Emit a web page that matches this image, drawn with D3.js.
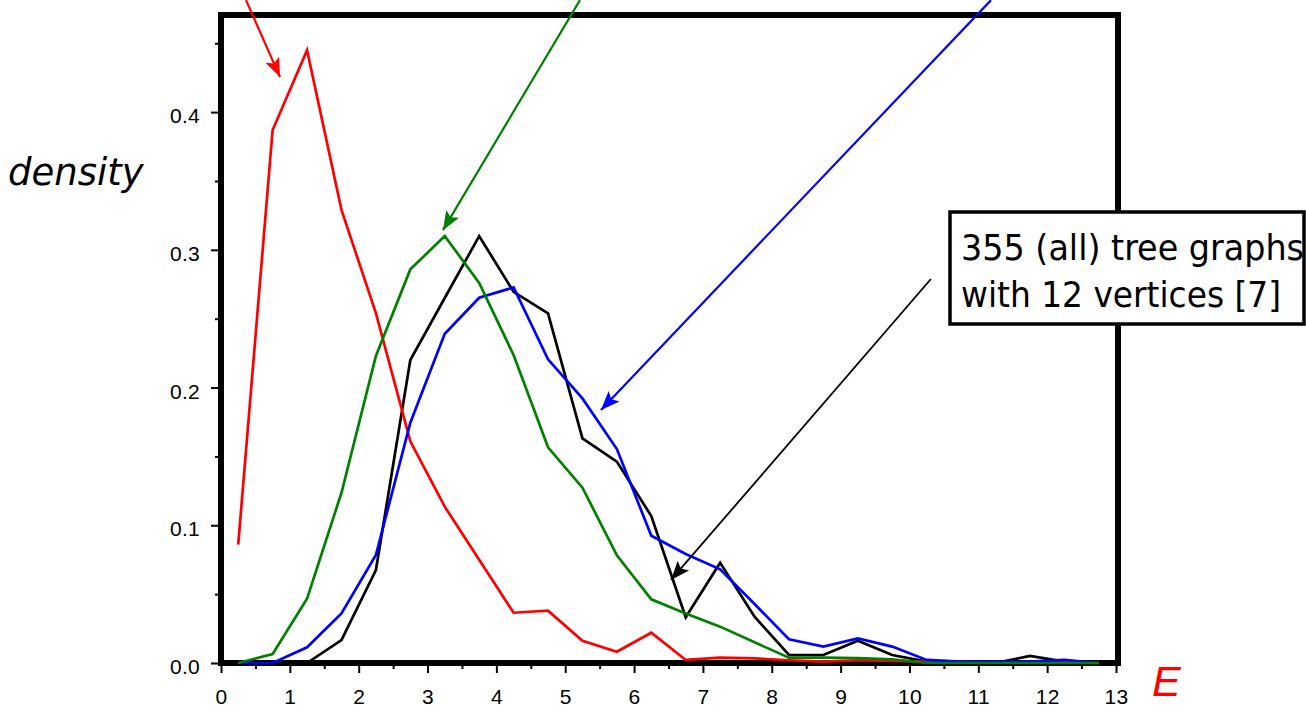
<!DOCTYPE html>
<html>
<head>
<meta charset="utf-8">
<script src="https://cdn.jsdelivr.net/npm/d3@7"></script>
<style>
  body { margin: 0; background: #fff; }
  svg { display: block; }
  .tick line { stroke: #000; stroke-width: 2px; }
</style>
</head>
<body>
<svg width="1306" height="711"></svg>
<script>
// bin centres of E
var eBins = [0.25, 0.75, 1.25, 1.75, 2.25, 2.75, 3.25, 3.75, 4.25, 4.75, 5.25, 5.75, 6.25,
             6.75, 7.25, 7.75, 8.25, 8.75, 9.25, 9.75, 10.25, 10.75, 11.25, 11.75, 12.25, 12.75];

var blackDensity = [null, null, 0, 0.0167, 0.0675, 0.22, 0.265, 0.31, 0.2695, 0.2539, 0.1631, 0.1462, 0.1067,
                    0.0332, 0.0728, 0.0336, 0.0058, 0.0058, 0.0162, 0.0058, 0.001, 0, 0, 0.0051, 0.001, 0];
var redDensity = [0.086, 0.387, 0.445, 0.329, 0.254, 0.161, 0.1135, 0.075, 0.0365, 0.038, 0.0162, 0.0082, 0.022,
                  0.0022, 0.0039, 0.0034, 0.002, 0.001, 0.002, 0.0015, 0.001, 0.001, 0.0005, 0.0005, 0.0005, 0];
var blueDensity = [0, 0, 0.0114, 0.036, 0.0784, 0.1745, 0.239, 0.2652, 0.2727, 0.2205, 0.1921, 0.1553, 0.0924,
                   0.0791, 0.068, 0.0428, 0.0172, 0.0119, 0.0179, 0.0119, 0.0022, 0.001, 0.001, 0.001, 0.0022, 0];
var greenDensity = [0, 0.0065, 0.0467, 0.1236, 0.2229, 0.2858, 0.31, 0.276, 0.2236, 0.1566, 0.1273, 0.0782, 0.0462,
                    0.036, 0.0264, 0.015, 0.0039, 0.0039, 0.0035, 0.0027, 0, 0, 0, 0, 0, 0];

var xMajor = d3.range(0, 14, 1);
var xMinor = d3.range(0.5, 13, 1);
var yMajor = [0, 0.1, 0.2, 0.3, 0.4];
var yMinor = [0.05, 0.15, 0.25, 0.35, 0.45];

// annotation arrows, [from, to] in data units
var arrows = [
  { color: "#ff0000", from: [0.363, 0.4813], to: [0.857, 0.4254] },
  { color: "#008000", from: [5.214, 0.4813], to: [3.224, 0.3143] },
  { color: "#0000ff", from: [11.184, 0.4813], to: [5.519, 0.1837] },
  { color: "#000000", from: [10.312, 0.2788], to: [6.536, 0.0603] }
];
var boxLines = ["355 (all) tree graphs", "with 12 vertices [7]"];

var svg = d3.select("svg");

var x = d3.scaleLinear().domain([0, 13]).range([221, 1116]);
var y = d3.scaleLinear().domain([0, 0.4705]).range([663, 15]);

// ticks
var gx = svg.append("g").attr("transform", "translate(0,663)");
gx.call(d3.axisBottom(x).tickValues(xMajor).tickSize(10).tickPadding(16).tickFormat(d3.format("d")));
gx.append("g").call(d3.axisBottom(x).tickValues(xMinor).tickSize(6).tickFormat(""));
var gy = svg.append("g").attr("transform", "translate(221,0)");
gy.call(d3.axisLeft(y).tickValues(yMajor).tickSize(10).tickPadding(11).tickFormat(d3.format(".1f")));
gy.append("g").call(d3.axisLeft(y).tickValues(yMinor).tickSize(6).tickFormat(""));
svg.selectAll(".domain").remove();
svg.selectAll(".tick text")
  .attr("font-family", "'Liberation Sans', Arial, sans-serif")
  .attr("font-size", 21)
  .attr("letter-spacing", 0.3)
  .attr("fill", "#000");
gy.selectAll(".tick text").attr("dy", "0.5em");

// frame
svg.append("rect")
  .attr("x", x(0)).attr("y", y.range()[1])
  .attr("width", 1118 - x(0)).attr("height", y(0) - y.range()[1])
  .attr("fill", "none").attr("stroke", "#000").attr("stroke-width", 6);

// curves
var line = d3.line()
  .defined(function(d) { return d[1] != null; })
  .x(function(d) { return x(d[0]); })
  .y(function(d) { return y(d[1]); });

[[blackDensity, "#000000"], [redDensity, "#ff0000"], [blueDensity, "#0000ff"], [greenDensity, "#008000"]]
  .forEach(function(s) {
    svg.append("path")
      .datum(d3.zip(eBins, s[0]))
      .attr("d", line)
      .attr("fill", "none")
      .attr("stroke", s[1])
      .attr("stroke-width", 2.7)
      .attr("stroke-linejoin", "miter");
  });

// arrows
var defs = svg.append("defs");
arrows.forEach(function(a, i) {
  defs.append("marker")
    .attr("id", "head" + i)
    .attr("markerUnits", "userSpaceOnUse")
    .attr("viewBox", "-19 -8 20 16")
    .attr("markerWidth", 20).attr("markerHeight", 16)
    .attr("refX", 0).attr("refY", 0)
    .attr("orient", "auto")
    .append("path")
    .attr("d", "M0,0 L-19,-7.5 L-15,0 L-19,7.5 Z")
    .attr("fill", a.color);
  svg.append("line")
    .attr("x1", x(a.from[0])).attr("y1", y(a.from[1]))
    .attr("x2", x(a.to[0])).attr("y2", y(a.to[1]))
    .attr("stroke", a.color)
    .attr("stroke-width", a.color === "#000000" ? 1.8 : 2.2)
    .attr("marker-end", "url(#head" + i + ")");
});

// annotation box
var box = svg.append("g");
box.append("rect")
  .attr("x", 950).attr("y", 212).attr("width", 354).attr("height", 112)
  .attr("fill", "#fff").attr("stroke", "#000").attr("stroke-width", 3.5);
box.selectAll("text").data(boxLines).enter().append("text")
  .attr("x", 961)
  .attr("y", function(d, i) { return 260 + i * 47; })
  .attr("font-family", "'DejaVu Sans Condensed', 'DejaVu Sans', sans-serif")
  .attr("font-stretch", "condensed")
  .attr("font-size", 36)
  .attr("textLength", function(d, i) { return i === 0 ? 343 : 320; })
  .attr("lengthAdjust", "spacingAndGlyphs")
  .text(function(d) { return d; });

// axis titles
svg.append("text")
  .attr("x", 8).attr("y", 185)
  .attr("font-family", "'DejaVu Sans', Verdana, sans-serif")
  .attr("font-style", "italic")
  .attr("font-size", 37)
  .text("density");

svg.append("text")
  .attr("x", 1152).attr("y", 696)
  .attr("font-family", "'Liberation Sans', Arial, sans-serif")
  .attr("font-style", "italic")
  .attr("font-size", 43)
  .attr("fill", "#ff0000")
  .text("E");
</script>
</body>
</html>
